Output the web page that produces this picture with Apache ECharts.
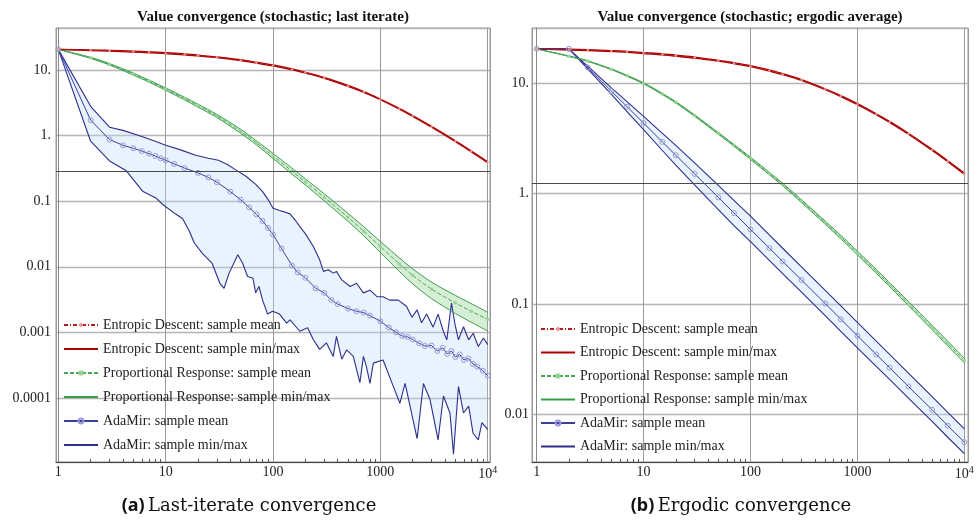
<!DOCTYPE html>
<html lang="en">
<head>
<meta charset="UTF-8">
<title>Value convergence</title>
<style>
  html, body { margin: 0; padding: 0; background: #fff; }
  #main { width: 978px; height: 525px; }
</style>
<script src="https://cdn.jsdelivr.net/npm/echarts@6/dist/echarts.min.js"></script>
</head>
<body>
<div id="main"></div>
<script>
// iteration counts used by the smooth curves
var iters = [1, 2, 3, 5, 7, 10, 15, 20, 30, 50, 70, 100, 150, 200, 300, 500, 700, 1000, 1500, 2000, 3000, 5000, 7000, 10000];

// ---- (a) last iterate ----
var edMeanLast = [20.6, 20.0, 19.6, 19.05, 18.6, 18.0, 17.3, 16.6, 15.6, 14.1, 12.9, 11.7, 10.2, 9.08, 7.57, 5.71, 4.61, 3.56, 2.56, 1.99, 1.36, 0.82, 0.578, 0.392];
var edMinLast = [20.6, 19.7, 19.3, 18.76, 18.3, 17.7, 17.0, 16.35, 15.4, 13.9, 12.7, 11.5, 10.05, 8.94, 7.46, 5.62, 4.54, 3.51, 2.52, 1.96, 1.34, 0.808, 0.569, 0.386];
var edMaxLast = [20.6, 20.3, 19.9, 19.34, 18.9, 18.3, 17.6, 16.85, 15.8, 14.3, 13.1, 11.9, 10.35, 9.22, 7.68, 5.8, 4.68, 3.61, 2.6, 2.02, 1.38, 0.832, 0.587, 0.398];

var prMeanLast = [20.6, 15.3, 12.2, 8.65, 6.75, 5.11, 3.66, 2.86, 1.99, 1.16, 0.776, 0.489, 0.288, 0.197, 0.1146, 0.0566, 0.0348, 0.0204, 0.0111, 0.00741, 0.00456, 0.00281, 0.00211, 0.00158];
var prMinLast = [20.6, 15.0, 11.9, 8.35, 6.52, 4.9, 3.5, 2.71, 1.89, 1.08, 0.723, 0.448, 0.259, 0.177, 0.1013, 0.0492, 0.0297, 0.0165, 0.00853, 0.0055, 0.00327, 0.00194, 0.00143, 0.00105];
var prMaxLast = [20.6, 15.6, 12.5, 8.96, 6.99, 5.33, 3.83, 3.01, 2.10, 1.245, 0.833, 0.534, 0.320, 0.219, 0.1296, 0.0651, 0.0408, 0.0243, 0.0137, 0.0093, 0.00583, 0.00366, 0.00275, 0.00202];

var amMeanLast = [[1, 20.6], [2, 1.72], [3, 0.87], [4, 0.71], [5, 0.64], [6, 0.58], [7, 0.53], [8, 0.49], [9, 0.45], [10, 0.42],
  [12, 0.37], [15, 0.32], [20, 0.27], [25, 0.23], [30, 0.195], [40, 0.14], [50, 0.105], [60, 0.080], [70, 0.063], [80, 0.050],
  [90, 0.039], [100, 0.031], [120, 0.019], [150, 0.0105], [170, 0.0082], [200, 0.0068], [250, 0.0047], [300, 0.0040], [350, 0.0031],
  [400, 0.0027], [500, 0.0023], [600, 0.0021], [700, 0.0020], [800, 0.0018], [1000, 0.00148], [1200, 0.00118], [1400, 0.0010],
  [1600, 0.00088], [1800, 0.00085], [2000, 0.00078], [2300, 0.00068], [2600, 0.00062], [3000, 0.00063], [3400, 0.00052],
  [3800, 0.00058], [4200, 0.00047], [4600, 0.00052], [5000, 0.00042], [5500, 0.00046], [6000, 0.00038], [6600, 0.00040],
  [7300, 0.00033], [8000, 0.00030], [9000, 0.00026], [10000, 0.00022]];
var amMaxLast = [[1, 20.6], [2, 2.79], [3, 1.34], [4, 1.2], [6, 0.97], [8, 0.82], [10, 0.71], [14, 0.6], [19, 0.50], [25, 0.45],
  [31, 0.42], [38, 0.36], [45, 0.30], [56, 0.24], [69, 0.18], [80, 0.14], [92, 0.10], [100, 0.078], [115, 0.072], [130, 0.068],
  [144, 0.064], [160, 0.052], [178, 0.041], [200, 0.032], [237, 0.0205], [272, 0.0128], [295, 0.0085], [328, 0.0090], [364, 0.0080],
  [390, 0.0085], [437, 0.0063], [523, 0.0050], [600, 0.0056], [695, 0.0040], [800, 0.0044], [930, 0.0035], [1060, 0.0035],
  [1220, 0.0031], [1470, 0.0031], [1750, 0.0025], [1970, 0.0017], [2200, 0.0022], [2420, 0.0014], [2700, 0.0019], [3100, 0.0012],
  [3450, 0.0019], [3870, 0.00103], [4160, 0.00077], [4600, 0.0028], [4950, 0.00135], [5340, 0.00077], [5950, 0.00122],
  [6650, 0.00077], [7320, 0.00097], [8180, 0.00061], [9130, 0.00082], [10000, 0.00065]];
var amMinLast = [[1, 20.6], [2, 0.82], [3, 0.41], [4.3, 0.29], [6.1, 0.142], [8.1, 0.112], [9.4, 0.089], [12.5, 0.063], [14.4, 0.054],
  [16.6, 0.035], [18.5, 0.023], [22, 0.016], [27, 0.0114], [32, 0.0056], [35, 0.0047], [39, 0.0080], [47, 0.0152], [52, 0.0114],
  [58, 0.0071], [65, 0.0067], [69, 0.0040], [74, 0.0050], [80, 0.0031], [89, 0.0019], [99, 0.0021], [115, 0.0019], [134, 0.00138],
  [144, 0.00155], [178, 0.00104], [210, 0.00118], [237, 0.00078], [272, 0.00055], [315, 0.00069], [364, 0.00043], [390, 0.00087],
  [437, 0.00039], [485, 0.00054], [560, 0.00043], [645, 0.000171], [695, 0.00043], [740, 0.000305], [800, 0.000167], [860, 0.00034],
  [1060, 0.00038], [1320, 0.00015], [1520, 0.000083], [1700, 0.000167], [2200, 0.000024], [2520, 0.000166], [2900, 0.000095],
  [3450, 0.000023], [3870, 0.000107], [4450, 0.000059], [4800, 0.0000139], [5340, 0.00015], [5950, 0.000059], [6650, 0.000075],
  [7300, 0.000029], [8180, 0.000023], [8830, 0.000042], [10000, 0.000033]];

// ---- (b) ergodic average ----
var edMeanErg = [20.5, 20.2, 20.0, 19.6, 19.3, 18.8, 18.3, 17.8, 17.1, 16.0, 15.2, 14.3, 13.05, 12.1, 10.7, 8.83, 7.66, 6.47, 5.25, 4.47, 3.49, 2.49, 1.97, 1.52];
var edMinErg = [20.5, 20.0, 19.8, 19.4, 19.1, 18.6, 18.1, 17.6, 16.9, 15.85, 15.05, 14.15, 12.9, 11.98, 10.6, 8.74, 7.58, 6.4, 5.2, 4.42, 3.45, 2.46, 1.95, 1.5];
var edMaxErg = [20.5, 20.4, 20.2, 19.8, 19.5, 19.0, 18.5, 18.0, 17.3, 16.15, 15.35, 14.45, 13.2, 12.22, 10.8, 8.92, 7.74, 6.54, 5.3, 4.52, 3.53, 2.52, 1.99, 1.54];

var prMeanErg = [20.5, 17.6, 15.9, 13.4, 11.7, 10.0, 8.0, 6.73, 5.10, 3.52, 2.74, 2.09, 1.52, 1.21, 0.855, 0.546, 0.404, 0.29, 0.198, 0.150, 0.101, 0.0612, 0.0438, 0.0308];
var prMinErg = [20.5, 17.51, 15.8, 13.3, 11.58, 9.9, 7.9, 6.64, 5.02, 3.46, 2.69, 2.04, 1.48, 1.18, 0.830, 0.529, 0.390, 0.279, 0.190, 0.144, 0.0967, 0.0584, 0.0417, 0.0293];
var prMaxErg = [20.5, 17.69, 16.0, 13.5, 11.82, 10.1, 8.1, 6.82, 5.18, 3.58, 2.79, 2.14, 1.56, 1.24, 0.881, 0.564, 0.419, 0.301, 0.206, 0.156, 0.1055, 0.0641, 0.046, 0.0323];

var amMeanErg = [20.5, 20.5, 13.9, 8.49, 6.14, 4.36, 2.94, 2.23, 1.51, 0.925, 0.668, 0.474, 0.321, 0.243, 0.165, 0.101, 0.0728, 0.0516, 0.0349, 0.0265, 0.0179, 0.0110, 0.0079, 0.0056];
var amMinErg = [20.5, 20.5, 13.5, 7.92, 5.54, 3.80, 2.46, 1.81, 1.20, 0.718, 0.513, 0.368, 0.249, 0.1887, 0.128, 0.0784, 0.0566, 0.0401, 0.0272, 0.0207, 0.0140, 0.00862, 0.0062, 0.0044];
var amMaxErg = [20.5, 20.5, 14.3, 9.10, 6.81, 5.01, 3.52, 2.74, 1.90, 1.19, 0.870, 0.625, 0.423, 0.320, 0.217, 0.133, 0.096, 0.068, 0.046, 0.0349, 0.0236, 0.0145, 0.0104, 0.0074];

// legend names
var names = [
  'Entropic Descent: sample mean',
  'Entropic Descent: sample min/max',
  'Proportional Response: sample mean',
  'Proportional Response: sample min/max',
  'AdaMir: sample mean',
  'AdaMir: sample min/max'
];

// tick labels (by power of ten)
var xTickExp = [0, 1, 2, 3, 4];
var xTickLabels = ['1', '10', '100', '1000', '10^4'];
var yTickExpLast = [-4, -3, -2, -1, 0, 1];
var yTickLabelsLast = ['0.0001', '0.001', '0.01', '0.1', '1.', '10.'];
var yTickExpErg = [-2, -1, 0, 1];
var yTickLabelsErg = ['0.01', '0.1', '1.', '10.'];

// where Mathematica drew its horizontal axis
var axisCross = [0.287, 1.23];

var serif = '"Liberation Serif", "Times New Roman", serif';

function zip(xs, ys) {
  return xs.map(function (x, i) { return [x, ys[i]]; });
}

function expOf(v) {
  var l = Math.log10(v), e = Math.round(l);
  return Math.abs(l - e) < 1e-6 ? e : null;
}

var panels = [
  {
    grid: { left: 56, top: 28, width: 434, height: 434 },
    xMin: 0.952, xMax: 10505, yMin: 1.057e-5, yMax: 43.6,
    yExp: yTickExpLast, yLabels: yTickLabelsLast, yMargin: 5,
    ed: [edMeanLast, edMinLast, edMaxLast].map(function (a) { return zip(iters, a); }),
    pr: [prMeanLast, prMinLast, prMaxLast].map(function (a) { return zip(iters, a); }),
    am: [amMeanLast, amMinLast, amMaxLast],
    legend: { left: 63, top: 318, gap: 10 }
  },
  {
    grid: { left: 532, top: 28, width: 436, height: 434 },
    xMin: 0.904, xMax: 10830, yMin: 0.0037, yMax: 31.7,
    yExp: yTickExpErg, yLabels: yTickLabelsErg, yMargin: 3,
    ed: [edMeanErg, edMinErg, edMaxErg].map(function (a) { return zip(iters, a); }),
    pr: [prMeanErg, prMinErg, prMaxErg].map(function (a) { return zip(iters, a); }),
    am: [amMeanErg, amMinErg, amMaxErg].map(function (a) { return zip(iters, a); }),
    legend: { left: 540, top: 322, gap: 9.5 }
  }
];

// minor ticks 2..9 in each decade, in log10 units
var minorTicks = [];
for (var d = 0; d < 4; d++) {
  for (var k = 2; k <= 9; k++) minorTicks.push(d + Math.log10(k));
}

function line(i, name, data, color, width, extra) {
  return Object.assign({
    type: 'line', name: name, data: data,
    xAxisIndex: i, yAxisIndex: i, silent: true,
    symbol: 'none', z: 3,
    lineStyle: { color: color, width: width },
    itemStyle: { color: color }
  }, extra || {});
}

function band(i, upper, lower, fill) {
  return {
    type: 'custom', xAxisIndex: i, yAxisIndex: i, silent: true, z: 1,
    data: [upper[0]],
    renderItem: function (params, api) {
      var pts = upper.map(function (p) { return api.coord(p); })
        .concat(lower.slice().reverse().map(function (p) { return api.coord(p); }));
      return { type: 'polygon', shape: { points: pts }, style: { fill: fill } };
    }
  };
}

var xAxes = [], yAxes = [], series = [], legends = [];

panels.forEach(function (p, i) {
  xAxes.push({
    type: 'log', logBase: 10, gridIndex: i, min: p.xMin, max: p.xMax, position: 'bottom',
    axisLine: { show: true, onZero: false, lineStyle: { color: '#444', width: 1 } },
    axisTick: { show: false },
    axisLabel: {
      margin: 3, color: '#222', fontFamily: serif, fontSize: 14,
      formatter: function (v) {
        var e = expOf(v);
        var idx = xTickExp.indexOf(e);
        if (e === null || idx < 0) return '';
        var t = xTickLabels[idx];
        if (t.indexOf('^') > 0) {
          var parts = t.split('^');
          return '{b|' + parts[0] + '}{s|' + parts[1] + '}';
        }
        return t;
      },
      rich: {
        b: { fontFamily: serif, fontSize: 14, color: '#222', lineHeight: 16, verticalAlign: 'bottom' },
        s: { fontFamily: serif, fontSize: 10, color: '#222', lineHeight: 10, verticalAlign: 'top' }
      }
    },
    splitLine: { show: true, lineStyle: { color: '#9a9a9a', width: 1 } }
  });
  yAxes.push({
    type: 'log', logBase: 10, gridIndex: i, min: p.yMin, max: p.yMax,
    axisLine: { show: true, lineStyle: { color: '#888', width: 1 } },
    axisTick: { show: false },
    axisLabel: {
      margin: p.yMargin, color: '#222', fontFamily: serif, fontSize: 14,
      formatter: function (v) {
        var e = expOf(v);
        var idx = p.yExp.indexOf(e);
        return (e === null || idx < 0) ? '' : p.yLabels[idx];
      }
    },
    splitLine: { show: true, lineStyle: { color: '#b4b4b4', width: 1.3 } }
  });

  // bands first so lines sit on top
  series.push(band(i, p.am[2], p.am[1], 'rgba(190,222,250,0.35)'));
  series.push(band(i, p.pr[2], p.pr[1], 'rgba(120,200,120,0.3)'));

  // AdaMir
  series.push(line(i, names[5], p.am[1], '#2c2f8e', 1.1));
  series.push(line(i, names[5], p.am[2], '#2c2f8e', 1.1));
  series.push(line(i, names[4], p.am[0], '#3b3f9e', 1, {
    symbol: 'circle', symbolSize: 5, z: 4,
    itemStyle: { color: 'rgba(255,255,255,0)', borderColor: '#9898d8', borderWidth: 1 }
  }));

  // Proportional Response
  series.push(line(i, names[3], p.pr[1], '#3a9d48', 1, { smooth: 0.3 }));
  series.push(line(i, names[3], p.pr[2], '#3a9d48', 1, { smooth: 0.3 }));
  series.push(line(i, names[2], p.pr[0], '#4aa85a', 1, {
    smooth: 0.3, symbol: 'rect', symbolSize: 3, z: 4,
    lineStyle: { color: '#4aa85a', width: 1, type: [4, 2] },
    itemStyle: { color: '#92d492' }
  }));

  // Entropic Descent
  series.push(line(i, names[1], p.ed[1], '#b00000', 1.3, {
    smooth: 0.3,
    markLine: {
      silent: true, symbol: ['none', 'none'], label: { show: false },
      lineStyle: { color: '#4a4a4a', width: 1, type: 'solid' },
      data: [{ yAxis: axisCross[i] }]
    }
  }));
  series.push(line(i, names[1], p.ed[2], '#b00000', 1.3, { smooth: 0.3 }));
  series.push(line(i, names[0], p.ed[0], '#b01c1c', 1, {
    smooth: 0.3, symbol: 'diamond', symbolSize: 3, z: 4,
    lineStyle: { color: '#b01c1c', width: 1, type: [4, 2, 1, 2] },
    itemStyle: { color: '#e89a9a' }
  }));

  legends.push({
    orient: 'vertical', left: p.legend.left, top: p.legend.top,
    padding: 0, itemGap: p.legend.gap, itemWidth: 34, itemHeight: 6,
    selectedMode: false,
    textStyle: { fontFamily: serif, fontSize: 14, color: '#222', lineHeight: 14 },
    data: names.map(function (n, k) {
      return (k % 2 === 1) ? { name: n, itemStyle: { opacity: 0 } } : { name: n };
    })
  });
});

// minor ticks on the x axes (extra value axes in log10 units, no data)
panels.forEach(function (p, i) {
  xAxes.push({
    type: 'value', gridIndex: i, position: 'bottom',
    min: Math.log10(p.xMin), max: Math.log10(p.xMax),
    axisLine: { show: false }, axisLabel: { show: false }, splitLine: { show: false },
    axisTick: { show: true, inside: true, length: 3, customValues: minorTicks, lineStyle: { color: '#555' } }
  });
});

var chart = echarts.init(document.getElementById('main'));
chart.setOption({
  animation: false,
  backgroundColor: '#fff',
  grid: panels.map(function (p) {
    return Object.assign({ show: true, borderColor: '#999', borderWidth: 1, backgroundColor: 'transparent' }, p.grid);
  }),
  xAxis: xAxes,
  yAxis: yAxes,
  legend: legends,
  series: series,
  graphic: [
    { type: 'text', x: 273, y: 17, style: { text: 'Value convergence (stochastic; last iterate)', font: 'bold 15px ' + serif, fill: '#111', align: 'center', verticalAlign: 'middle' } },
    { type: 'text', x: 750, y: 17, style: { text: 'Value convergence (stochastic; ergodic average)', font: 'bold 15px ' + serif, fill: '#111', align: 'center', verticalAlign: 'middle' } },
    {
      type: 'text', x: 249, y: 506,
      style: {
        text: '{b|(a)} {t|Last-iterate convergence}', align: 'center', verticalAlign: 'middle',
        rich: {
          b: { fontFamily: '"Noto Sans", sans-serif', fontWeight: 'bold', fontSize: 18, fill: '#111' },
          t: { fontFamily: '"DejaVu Serif", serif', fontSize: 18, fill: '#111' }
        }
      }
    },
    {
      type: 'text', x: 741, y: 506,
      style: {
        text: '{b|(b)} {t|Ergodic convergence}', align: 'center', verticalAlign: 'middle',
        rich: {
          b: { fontFamily: '"Noto Sans", sans-serif', fontWeight: 'bold', fontSize: 18, fill: '#111' },
          t: { fontFamily: '"DejaVu Serif", serif', fontSize: 18, fill: '#111' }
        }
      }
    }
  ]
});
</script>
</body>
</html>
